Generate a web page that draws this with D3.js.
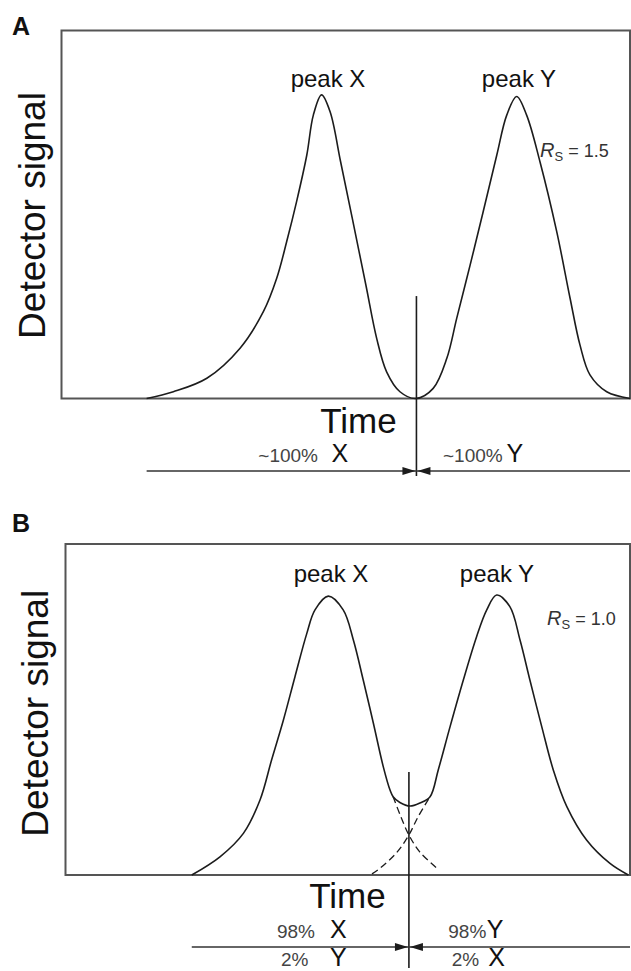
<!DOCTYPE html>
<html>
<head>
<meta charset="utf-8">
<script src="https://cdn.jsdelivr.net/npm/d3@7"></script>
<style>
  html, body { margin: 0; padding: 0; background: #fff; }
  svg { display: block; font-family: "Liberation Sans", Arial, Helvetica, sans-serif; }
</style>
</head>
<body>
<svg id="chart" width="631" height="971"></svg>
<script>
// ---------------- DATA ----------------
const panelLabels = ["A", "B"];
const yTitle = "Detector signal";
const xTitle = "Time";
const peakNames = ["peak X", "peak Y"];
const rsValues = ["1.5", "1.0"];

// Panel A: resolved chromatogram (time, relative signal)
const timeA = [2.98, 3.92, 5.10, 6.27, 7.09, 7.56, 7.91, 8.26, 8.62, 8.85, 9.14, 9.44, 9.81, 10.22, 10.70, 11.08, 11.43, 11.90, 12.46,
               13.07, 13.55, 13.90, 14.37, 14.83, 15.31, 15.66, 16.01, 16.36, 16.83, 17.42, 17.89, 18.24, 18.59, 19.18, 20.0];
const signalA = [0, 0.022, 0.066, 0.164, 0.283, 0.392, 0.511, 0.642, 0.794, 0.924, 0.99, 0.935, 0.772, 0.588, 0.370, 0.196, 0.087, 0.022, 0,
                 0.033, 0.131, 0.262, 0.435, 0.609, 0.794, 0.924, 0.985, 0.924, 0.772, 0.544, 0.327, 0.174, 0.077, 0.022, 0];

// Panel B: partially overlapping chromatogram (sum curve)
const timeB = [4.46, 5.46, 6.29, 6.88, 7.29, 7.71, 8.12, 8.54, 8.83, 9.30, 9.83, 10.19, 10.54, 10.90, 11.25, 11.49, 11.60, 11.84, 12.20, 12.55,
               12.91, 13.20, 13.62, 14.09, 14.56, 14.92, 15.27, 15.74, 16.10, 16.45, 16.87, 17.28, 17.76, 18.46, 19.29, 19.94];
const signalB = [0, 0.066, 0.151, 0.272, 0.417, 0.562, 0.719, 0.876, 0.961, 1.011, 0.961, 0.852, 0.707, 0.550, 0.393, 0.308, 0.284, 0.263, 0.250, 0.261,
                 0.284, 0.381, 0.538, 0.707, 0.864, 0.961, 1.015, 0.973, 0.852, 0.707, 0.538, 0.381, 0.248, 0.127, 0.042, 0];

// Panel B: individual peak tails (dashed)
const tailXTime = [11.60, 11.88, 12.16, 12.55, 13.16];
const tailXSignal = [0.284, 0.210, 0.145, 0.083, 0.024];
const tailYTime = [10.85, 11.13, 11.74, 12.16, 12.48, 12.91];
const tailYSignal = [0.004, 0.024, 0.083, 0.145, 0.210, 0.284];

// Cut point (fraction collection) and top of the marker line
const cutTime = [12.48, 12.16];
const cutTop = [0.334, 0.373];
const collectStart = [2.98, 4.46];

// Fraction annotations [left text, left letter, right text, right letter]
const fracA = [["~100%", "X", "~100%", "Y"]];
const fracB = [["98%", "X", "98%", "Y"], ["2%", "Y", "2%", "X"]];

// ---------------- LAYOUT ----------------
const svg = d3.select("#chart");
svg.append("rect").attr("width", 631).attr("height", 971).attr("fill", "#fff");

const panels = [
  {
    label: panelLabels[0], labelY: 35,
    frame: { l: 61.5, t: 30.5, r: 630, b: 398.5 },
    xr: [62, 630], yr: [398.5, 30.5],
    time: timeA, signal: signalA,
    yTitleX: 45, yTitleY: 215.5,
    peakLabels: [[328, 87], [519, 87]],
    rs: rsValues[0], rsX: 540, rsY: 157,
    timeX: 358.5, timeY: 433,
    arrowY: 471, vlineBottom: 476,
    frac: fracA, fracY: [462],
    fracLeftEnd: [318], fracLeftLetter: [331.5], fracRightStart: [443], fracRightLetter: [506.5]
  },
  {
    label: panelLabels[1], labelY: 532,
    frame: { l: 65.5, t: 544, r: 630, b: 875 },
    xr: [66, 630], yr: [875, 544],
    time: timeB, signal: signalB,
    yTitleX: 48, yTitleY: 713.3,
    peakLabels: [[331, 582], [497, 582]],
    rs: rsValues[1], rsX: 547, rsY: 625,
    timeX: 347.5, timeY: 908,
    arrowY: 947, vlineBottom: 968,
    frac: fracB, fracY: [938, 966],
    fracLeftEnd: [315, 308.5], fracLeftLetter: [330, 330], fracRightStart: [448.3, 451.7], fracRightLetter: [486.7, 488.3]
  }
];

const ink = "#1c1c1c";

panels.forEach((p, i) => {
  const x = d3.scaleLinear().domain([0, 20]).range(p.xr);
  const y = d3.scaleLinear().domain([0, 1.2]).range(p.yr);
  const g = svg.append("g");

  // panel letter
  g.append("text").attr("x", 12).attr("y", p.labelY)
    .attr("font-size", 25).attr("font-weight", "bold").attr("fill", "#111").text(p.label);

  // frame
  g.append("rect")
    .attr("x", p.frame.l).attr("y", p.frame.t)
    .attr("width", p.frame.r - p.frame.l).attr("height", p.frame.b - p.frame.t)
    .attr("fill", "none").attr("stroke", "#555").attr("stroke-width", 2);

  // y title
  g.append("text")
    .attr("transform", `translate(${p.yTitleX},${p.yTitleY}) rotate(-90)`)
    .attr("text-anchor", "middle").attr("font-size", 37).attr("fill", "#111")
    .text(yTitle);

  // chromatogram
  const pts = p.time.map((t, k) => [t, p.signal[k]]);
  const line = d3.line().x(d => x(d[0])).y(d => y(Math.max(0, d[1]))).curve(d3.curveCatmullRom.alpha(0.5));
  g.append("path").attr("d", line(pts))
    .attr("fill", "none").attr("stroke", ink).attr("stroke-width", 1.6).attr("stroke-linejoin", "round");

  if (i === 1) {
    const tx = tailXTime.map((t, k) => [t, tailXSignal[k]]);
    const ty = tailYTime.map((t, k) => [t, tailYSignal[k]]);
    [tx, ty].forEach(tp => {
      g.append("path").attr("d", line(tp))
        .attr("fill", "none").attr("stroke", ink).attr("stroke-width", 1.3)
        .attr("stroke-dasharray", "7,4");
    });
  }

  // peak labels
  p.peakLabels.forEach((pl, k) => {
    g.append("text").attr("x", pl[0]).attr("y", pl[1])
      .attr("text-anchor", "middle").attr("font-size", 24).attr("fill", "#111")
      .text(peakNames[k]);
  });

  // Rs
  const rs = g.append("text").attr("x", p.rsX).attr("y", p.rsY).attr("font-size", 18).attr("fill", "#333");
  rs.append("tspan").attr("font-style", "italic").attr("font-size", 20).text("R");
  rs.append("tspan").attr("font-size", 13).attr("dy", 4).text("S");
  rs.append("tspan").attr("dy", -4).text(" = " + p.rs);

  // Time label
  g.append("text").attr("x", p.timeX).attr("y", p.timeY)
    .attr("text-anchor", "middle").attr("font-size", 35).attr("fill", "#111").text(xTitle);

  // cut marker
  const cx = x(cutTime[i]);
  g.append("line").attr("x1", cx).attr("x2", cx)
    .attr("y1", y(cutTop[i])).attr("y2", p.vlineBottom)
    .attr("stroke", ink).attr("stroke-width", 1.6);

  // collection arrows
  const ay = p.arrowY;
  g.append("line").attr("x1", x(collectStart[i])).attr("x2", 630)
    .attr("y1", ay).attr("y2", ay).attr("stroke", "#333").attr("stroke-width", 1.6);
  g.append("path")
    .attr("d", `M${cx - 1},${ay} L${cx - 14},${ay - 4} L${cx - 14},${ay + 4} Z`)
    .attr("fill", ink);
  g.append("path")
    .attr("d", `M${cx + 1},${ay} L${cx + 14},${ay - 4} L${cx + 14},${ay + 4} Z`)
    .attr("fill", ink);

  // fraction annotations
  p.frac.forEach((f, k) => {
    const fy = p.fracY[k];
    g.append("text").attr("x", p.fracLeftEnd[k]).attr("y", fy).attr("text-anchor", "end")
      .attr("font-size", 19).attr("fill", "#444").text(f[0]);
    g.append("text").attr("x", p.fracLeftLetter[k]).attr("y", fy)
      .attr("font-size", 25).attr("fill", "#111").text(f[1]);
    g.append("text").attr("x", p.fracRightStart[k]).attr("y", fy)
      .attr("font-size", 19).attr("fill", "#444").text(f[2]);
    g.append("text").attr("x", p.fracRightLetter[k]).attr("y", fy)
      .attr("font-size", 25).attr("fill", "#111").text(f[3]);
  });
});
</script>
</body>
</html>
